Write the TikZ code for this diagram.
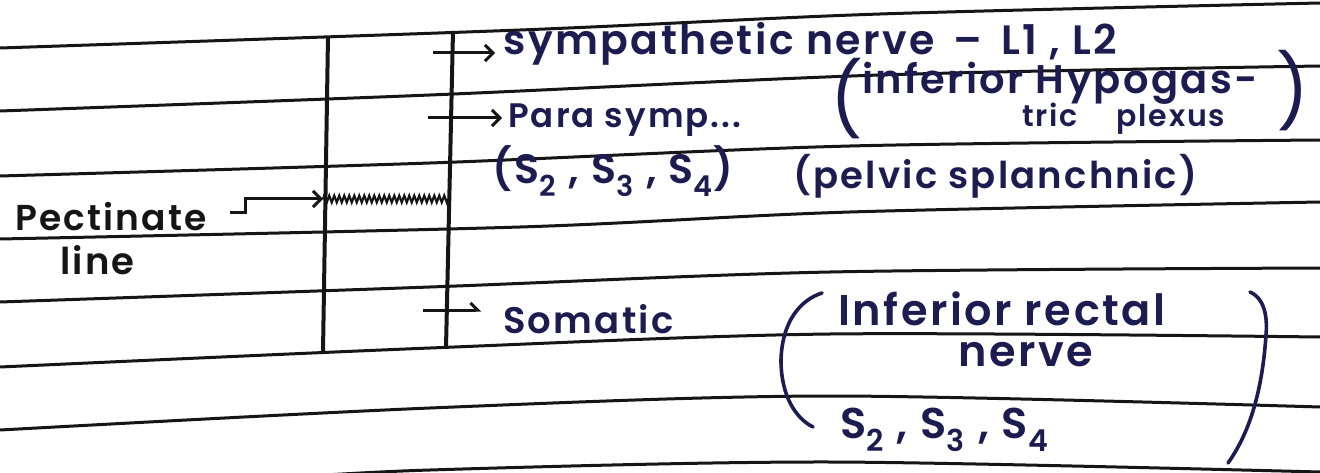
\documentclass[tikz,border=0pt]{standalone}
\usepackage{fontspec}
\setmainfont{Poppins}
\IfFontExistsTF{Poppins SemiBold}
  {\newfontfamily\hand{Poppins SemiBold}[LetterSpace=6]}
  {\newfontfamily\hand{Poppins}[LetterSpace=6,UprightFont=*-Bold]}
\newfontfamily\paren{Poppins}
\usepackage{xcolor}
\usetikzlibrary{arrows.meta,positioning,calc,decorations.pathmorphing}
\definecolor{pen}{HTML}{151515}
\definecolor{ink}{HTML}{1C1C50}
\newcommand{\fs}[1]{\fontsize{#1}{#1}\selectfont}

\begin{document}
\begin{tikzpicture}[x=1pt,y=-1pt,
  rl/.style={line width=3pt,pen},
  vl/.style={line width=4pt,pen},
  br/.style={line width=3pt,pen,-{Straight Barb[length=8pt,width=16pt,line width=3pt]}},
  hb/.style={line width=3pt,pen,-{Straight Barb[left,length=7pt,width=14pt,line width=3pt]}},
  wv/.style={line width=2.2pt,pen,decorate,decoration={zigzag,segment length=5pt,amplitude=3.4pt}},
  tx/.style={font=\hand\fs{38},color=ink,anchor=base west,inner sep=0pt},
  lt/.style={tx,color=pen},
  bk/.style={line width=3.6pt,ink,line cap=round}
]
\useasboundingbox (0,0) rectangle (1320,473);
\fill[white] (0,0) rectangle (1320,473);
%--- ruled lines of the page ---
\draw[rl] plot[smooth] coordinates {(0,48) (520,30) (880,14) (1320,3)};
\draw[rl] plot[smooth] coordinates {(0,111) (430,95) (880,75) (1320,66)};
\draw[rl] plot[smooth] coordinates {(0,176) (430,163) (850,146) (1320,140)};
\draw[rl] plot[smooth] coordinates {(0,239) (520,227) (850,212) (1320,202)};
\draw[rl] plot[smooth] coordinates {(0,302) (430,287) (830,272) (1320,268)};
\draw[rl] plot[smooth] coordinates {(0,367) (430,348) (830,334) (1320,337)};
\draw[rl] plot[smooth] coordinates {(0,430) (430,408) (830,396) (1320,407)};
\draw[rl] plot[smooth] coordinates {(250,480) (430,470) (830,462) (1320,472)};
%--- the two columns ---
\coordinate (vlt) at (328,36);  \coordinate (vlb) at (323,352);
\coordinate (vrt) at (453,31);  \coordinate (vrb) at (446,348);
\draw[vl] (vlt) -- (vlb);
\draw[vl] (vrt) -- (vrb);
%--- pectinate line ---
\node[lt,font=\hand\fs{36}] (pect) at (15,230) {Pectinate};
\node[lt,font=\hand\fs{37}] (line) at (60,274) {line};
\coordinate (pk) at (230,213);
\coordinate (wl) at (323,199);
\coordinate (wr) at (448,199);
\draw[br] (pk) -- ++(15,0) |- (wl);
\draw[wv] (wl) -- (wr);
%--- nerve supply ---
\node[tx,font=\hand\fs{41}] (sym) at (503,55) {sympathetic nerve \,–\, L1 , L2};
\node[tx,font=\hand\fs{34}] (para) at (508,128) {Para symp...};
\node[tx,font=\hand\fs{41}] (sacr) at (492,184) {(S\textsubscript{2} , S\textsubscript{3} , S\textsubscript{4})};
\node[tx,font=\paren\fs{72}] (lpa) at (830,126) {(};
\node[tx,font=\hand\fs{40}] (inf) at (862,94) {inferior Hypogas-};
\node[tx,font=\hand\fs{30}] (tric) at (1022,127) {tric \quad plexus};
\node[tx,font=\paren\fs{72}] (rpa) at (1276,118) {)};
\node[tx,font=\hand\fs{37}] (pel) at (793,189) {(pelvic splanchnic)};
\node[tx,font=\hand\fs{37}] (som) at (503,333) {Somatic};
\node[tx,font=\hand\fs{43}] (irn) at (838,325) {Inferior rectal};
\node[tx,font=\hand\fs{43}] (nrv) at (958,366) {nerve};
\node[tx,font=\hand\fs{43}] (sss) at (840,438) {S\textsubscript{2} , S\textsubscript{3} , S\textsubscript{4}};
\coordinate (b1) at (433,53);
\coordinate (b2) at (428,118);
\coordinate (b3) at (423,310);
\draw[br,shorten >=8pt] (b1) -- (b1 -| sym.west);
\draw[br,shorten >=6pt] (b2) -- (b2 -| para.west);
\draw[hb,shorten >=22pt] (b3) -- (b3 -| som.west);
%--- big brackets round the somatic supply ---
\draw[bk] (822,293) .. controls (800,300) and (782,322) .. (781,360)
  .. controls (781,395) and (795,418) .. (813,427);
\draw[bk] (1250,292) .. controls (1262,297) and (1268,312) .. (1266,335)
  .. controls (1262,395) and (1248,435) .. (1228,463);
\end{tikzpicture}
\end{document}
